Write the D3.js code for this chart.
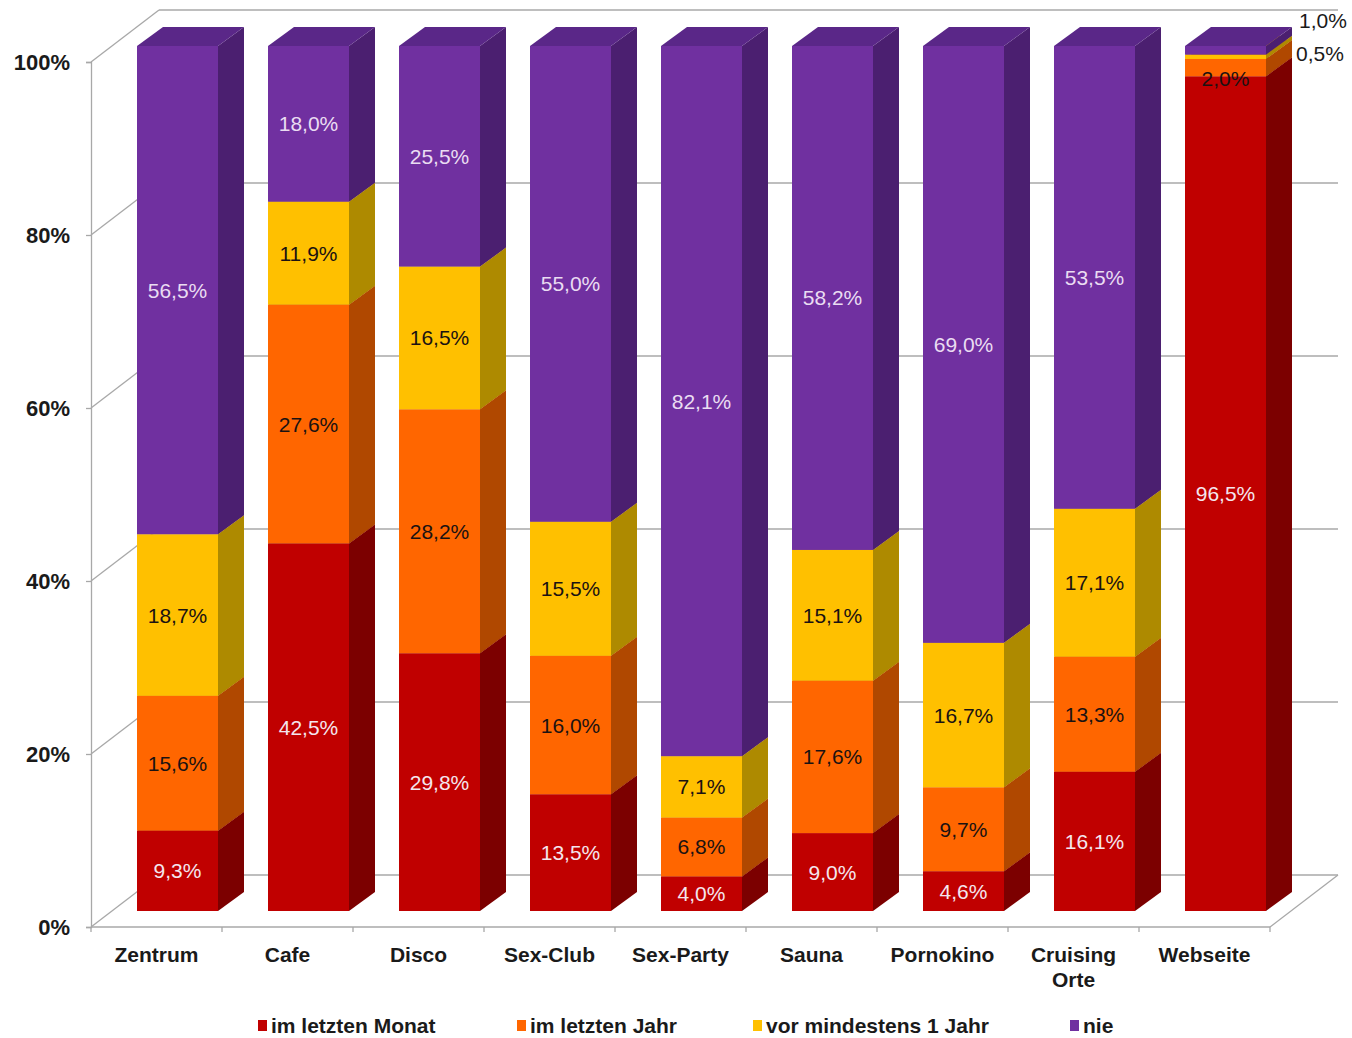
<!DOCTYPE html>
<html>
<head>
<meta charset="utf-8">
<script src="https://cdn.jsdelivr.net/npm/d3@7"></script>
<style>
  html, body { margin: 0; padding: 0; background: #fff; }
  svg { display: block; }
</style>
</head>
<body>
<svg id="chart" width="1352" height="1038"></svg>
<script>
const categories = ["Zentrum", "Cafe", "Disco", "Sex-Club", "Sex-Party", "Sauna", "Pornokino", "Cruising Orte", "Webseite"];
const seriesNames = ["im letzten Monat", "im letzten Jahr", "vor mindestens 1 Jahr", "nie"];
const imLetztenMonat = [9.3, 42.5, 29.8, 13.5, 4.0, 9.0, 4.6, 16.1, 96.5];
const imLetztenJahr = [15.6, 27.6, 28.2, 16.0, 6.8, 17.6, 9.7, 13.3, 2.0];
const vorMindestens1Jahr = [18.7, 11.9, 16.5, 15.5, 7.1, 15.1, 16.7, 17.1, 0.5];
const nie = [56.5, 18.0, 25.5, 55.0, 82.1, 58.2, 69.0, 53.5, 1.0];
const yTicks = [0, 20, 40, 60, 80, 100];

const seriesValues = [imLetztenMonat, imLetztenJahr, vorMindestens1Jahr, nie];
const frontColors = ["#C00000", "#FF6600", "#FFC000", "#7030A0"];
const sideColors = ["#7C0000", "#B04800", "#AE8A00", "#4B1F70"];
const topColors = ["#960000", "#CC5200", "#D9A300", "#5A2788"];
const labelColors = ["#F4E6EE", "#1A1212", "#1A1212", "#EADCF2"];

const svg = d3.select("#chart");
const fmt = v => v.toFixed(1).replace(".", ",") + "%";

const x = d3.scaleBand().domain(categories).range([91, 1270]).padding(0);
const y = d3.scaleLinear().domain([0, 100]).range([927, 62]);
const bw = x.bandwidth();

// 3D offsets
const wallDX = 68, wallDY = -52;   // back wall
const barDX = 21, barDY = -16;     // bar front plane
const depthDX = 26, depthDY = -19; // bar depth
const barW = 81;

const gridColor = "#A8A8A8";

// Back wall gridlines and left-wall diagonals
const g0 = svg.append("g");
yTicks.forEach(t => {
  g0.append("line")
    .attr("x1", 91 + wallDX).attr("y1", y(t) + wallDY)
    .attr("x2", 1270 + wallDX).attr("y2", y(t) + wallDY)
    .attr("stroke", gridColor).attr("stroke-width", 1.3);
  g0.append("line")
    .attr("x1", 91).attr("y1", y(t))
    .attr("x2", 91 + wallDX).attr("y2", y(t) + wallDY)
    .attr("stroke", gridColor).attr("stroke-width", 1.3);
});
// floor right edge
g0.append("line")
  .attr("x1", 1270).attr("y1", y(0))
  .attr("x2", 1270 + wallDX).attr("y2", y(0) + wallDY)
  .attr("stroke", gridColor).attr("stroke-width", 1.3);
// floor front edge
g0.append("line")
  .attr("x1", 91).attr("y1", y(0)).attr("x2", 1270).attr("y2", y(0))
  .attr("stroke", gridColor).attr("stroke-width", 1.3);
// category boundary ticks
const boundaries = categories.map(c => x(c)).concat([x(categories[categories.length - 1]) + bw]);
boundaries.forEach(bx => {
  g0.append("line")
    .attr("x1", bx).attr("x2", bx).attr("y1", y(0)).attr("y2", y(0) + 5)
    .attr("stroke", gridColor).attr("stroke-width", 1.3);
});

// Y axis
const yAxis = d3.axisLeft(y).tickValues(yTicks).tickSize(5).tickPadding(16)
  .tickFormat(d => d + "%");
const ya = svg.append("g").attr("transform", "translate(91,0)").call(yAxis);
ya.select(".domain").attr("stroke", gridColor).attr("stroke-width", 1.3);
ya.selectAll(".tick line").attr("stroke", gridColor).attr("stroke-width", 1.3);
ya.selectAll(".tick text")
  .attr("font-family", "Liberation Sans, Arial, sans-serif")
  .attr("font-size", 22).attr("font-weight", "bold").attr("fill", "#1a1a1a");

// Bars
const bars = svg.append("g");
categories.forEach((c, i) => {
  const vals = seriesValues.map(s => s[i]);
  const total = d3.sum(vals);
  const x0 = x(c) + bw / 2 - barW / 2 + barDX;
  const x1 = x0 + barW;
  let cum = 0;
  vals.forEach((v, s) => {
    const p0 = cum / total * 100;
    cum += v;
    const p1 = cum / total * 100;
    const yb = y(p0) + barDY, yt = y(p1) + barDY;
    bars.append("rect")
      .attr("x", x0).attr("y", yt).attr("width", barW).attr("height", Math.max(0, yb - yt))
      .attr("fill", frontColors[s]);
    bars.append("path")
      .attr("d", `M${x1},${yb}L${x1 + depthDX},${yb + depthDY}L${x1 + depthDX},${yt + depthDY}L${x1},${yt}Z`)
      .attr("fill", sideColors[s]);
    bars.append("path")
      .attr("d", `M${x0},${yt}L${x1},${yt}L${x1 + depthDX},${yt + depthDY}L${x0 + depthDX},${yt + depthDY}Z`)
      .attr("fill", topColors[s]);
  });
});

// Value labels
const labels = svg.append("g")
  .attr("font-family", "Liberation Sans, Arial, sans-serif")
  .attr("font-size", 21);
categories.forEach((c, i) => {
  const vals = seriesValues.map(s => s[i]);
  const total = d3.sum(vals);
  const cx = x(c) + bw / 2 + barDX;
  let cum = 0;
  vals.forEach((v, s) => {
    const p0 = cum / total * 100;
    cum += v;
    const p1 = cum / total * 100;
    const yb = y(p0) + barDY, yt = y(p1) + barDY;
    let lx = cx, ly = (yb + yt) / 2, anchor = "middle", fill = labelColors[s];
    if (c === "Webseite" && s === 1) { ly = yt + 20; }
    if (c === "Webseite" && s === 2) { lx = 1296; ly = 53; anchor = "start"; fill = "#1a1a1a"; }
    if (c === "Webseite" && s === 3) { lx = 1299; ly = 20; anchor = "start"; fill = "#1a1a1a"; }
    labels.append("text")
      .attr("x", lx).attr("y", ly)
      .attr("text-anchor", anchor).attr("dominant-baseline", "central")
      .attr("fill", fill)
      .text(fmt(v));
  });
});

// Category labels
const cats = svg.append("g")
  .attr("font-family", "Liberation Sans, Arial, sans-serif")
  .attr("font-size", 21).attr("font-weight", "bold").attr("fill", "#1a1a1a")
  .attr("text-anchor", "middle");
categories.forEach(c => {
  const words = c === "Cruising Orte" ? ["Cruising", "Orte"] : [c];
  const t = cats.append("text").attr("x", x(c) + bw / 2).attr("y", 962);
  words.forEach((w, k) => {
    t.append("tspan").attr("x", x(c) + bw / 2).attr("dy", k === 0 ? 0 : 25).text(w);
  });
});

// Legend
const legendX = [258, 517, 753, 1070];
const leg = svg.append("g")
  .attr("font-family", "Liberation Sans, Arial, sans-serif")
  .attr("font-size", 21).attr("font-weight", "bold").attr("fill", "#1a1a1a");
seriesNames.forEach((n, s) => {
  leg.append("rect").attr("x", legendX[s]).attr("y", 1020).attr("width", 9).attr("height", 11)
    .attr("fill", frontColors[s]);
  leg.append("text").attr("x", legendX[s] + 13).attr("y", 1033).text(n);
});
</script>
</body>
</html>
